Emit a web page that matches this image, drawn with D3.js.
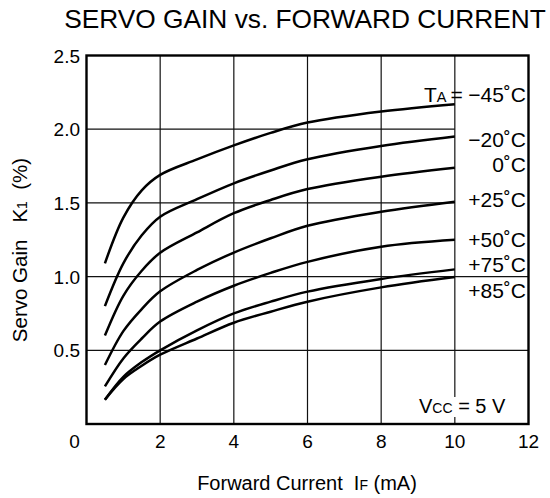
<!DOCTYPE html>
<html>
<head>
<meta charset="utf-8">
<script src="https://cdn.jsdelivr.net/npm/d3@7"></script>
<style>
  body { margin: 0; background: #fff; }
  svg { display: block; font-family: "Liberation Sans", Arial, sans-serif; }
</style>
</head>
<body>
<svg></svg>
<script>
// forward current (mA) where each curve was read
const currents = [0.5, 1, 1.5, 2, 3, 4, 5, 6, 8, 10];

// servo gain K1 (%) per ambient temperature
const gainM45 = [1.09, 1.40, 1.585, 1.69, 1.795, 1.89, 1.975, 2.045, 2.12, 2.17];
const gainM20 = [0.80, 1.09, 1.28, 1.406, 1.525, 1.633, 1.72, 1.796, 1.886, 1.95];
const gain0 = [0.60, 0.87, 1.04, 1.162, 1.30, 1.43, 1.52, 1.594, 1.678, 1.739];
const gainP25 = [0.40, 0.63, 0.78, 0.90, 1.045, 1.163, 1.26, 1.345, 1.44, 1.508];
const gainP50 = [0.255, 0.445, 0.58, 0.695, 0.83, 0.938, 1.025, 1.10, 1.203, 1.25];
const gainP75 = [0.165, 0.32, 0.42, 0.50, 0.635, 0.75, 0.83, 0.898, 0.984, 1.049];
const gainP85 = [0.165, 0.305, 0.395, 0.47, 0.58, 0.687, 0.762, 0.83, 0.927, 0.997];

const series = [gainM45, gainM20, gain0, gainP25, gainP50, gainP75, gainP85];
const tempLabels = ["\u221245\u02DAC", "\u221220\u02DAC", "0\u02DAC", "+25\u02DAC", "+50\u02DAC", "+75\u02DAC", "+85\u02DAC"];

const xTicks = [0, 2, 4, 6, 8, 10, 12];
const yTicks = [0.5, 1.0, 1.5, 2.0, 2.5];
const xGrid = [2, 4, 6, 8, 10];
const yGrid = [0.5, 1.0, 1.5, 2.0];
const yGridShort = [1.5, 2.0]; // these stop at 10 mA

document.addEventListener("DOMContentLoaded", function() {
  const width = 550;
  const height = 498;
  const margin = { top: 55.5, left: 86.5, bottom: 74, right: 21.5 };
  const innerWidth = width - margin.left - margin.right;
  const innerHeight = height - margin.top - margin.bottom;
  const fontSize = 19;
  const labelSize = 21;

  let svg = d3.select("svg")
              .attr("width", width)
              .attr("height", height);

  //set up scales
  let xScale = d3.scaleLinear().domain([0, 12]).range([margin.left, width - margin.right]);
  let yScale = d3.scaleLinear().domain([0, 2.5]).range([height - margin.bottom, margin.top]);

  //title
  svg.append("text")
     .attr("x", 305)
     .attr("y", 28)
     .attr("text-anchor", "middle")
     .style("font-size", "26.3px")
     .text("SERVO GAIN vs. FORWARD CURRENT");

  //grid
  svg.append("g")
     .selectAll("line")
     .data(xGrid)
     .enter()
     .append("line")
       .attr("x1", d => xScale(d))
       .attr("x2", d => xScale(d))
       .attr("y1", yScale(0))
       .attr("y2", yScale(2.5))
       .attr("stroke", "#111")
       .attr("stroke-width", 1.2);

  svg.append("g")
     .selectAll("line")
     .data(yGrid)
     .enter()
     .append("line")
       .attr("x1", xScale(0))
       .attr("x2", d => yGridShort.includes(d) ? xScale(10) : xScale(12))
       .attr("y1", d => yScale(d))
       .attr("y2", d => yScale(d))
       .attr("stroke", "#111")
       .attr("stroke-width", 1.2);

  //frame
  svg.append("rect")
     .attr("x", xScale(0))
     .attr("y", yScale(2.5))
     .attr("width", innerWidth)
     .attr("height", innerHeight)
     .attr("fill", "none")
     .attr("stroke", "#000")
     .attr("stroke-width", 2.4);

  //curves
  let line = d3.line()
               .x((d, i) => xScale(currents[i]))
               .y(d => yScale(d))
               .curve(d3.curveCatmullRom.alpha(0.5));

  svg.append("g")
     .selectAll("path")
     .data(series)
     .enter()
     .append("path")
       .attr("d", line)
       .attr("fill", "none")
       .attr("stroke", "#000")
       .attr("stroke-width", 2.5);

  //temperature labels
  const labelY = [101.7, 147.3, 171.7, 207.3, 246.7, 271.7, 297.7];
  svg.append("g")
     .selectAll("text")
     .data(tempLabels)
     .enter()
     .append("text")
       .attr("x", 526)
       .attr("y", (d, i) => labelY[i])
       .attr("text-anchor", "end")
       .style("font-size", labelSize + "px")
       .text(d => d);

  let ta = svg.append("text")
              .attr("x", 424)
              .attr("y", 101.7)
              .style("font-size", labelSize + "px");
  ta.append("tspan").text("T");
  ta.append("tspan").style("font-size", "14.5px").text("A");
  ta.append("tspan").attr("dx", 4).text("=");

  //Vcc note with white box under it
  let vccBox = svg.append("rect").attr("fill", "#fff");
  let vcc = svg.append("text")
               .attr("x", 419)
               .attr("y", 413)
               .style("font-size", "20px");
  vcc.append("tspan").text("V");
  vcc.append("tspan").style("font-size", "14px").text("CC");
  vcc.append("tspan").text(" = 5 V");
  let bb = vcc.node().getBBox();
  vccBox.attr("x", bb.x - 1).attr("y", bb.y + 2).attr("width", bb.width + 2).attr("height", bb.height - 2);

  //tick labels
  svg.append("g")
     .selectAll("text")
     .data(xTicks)
     .enter()
     .append("text")
       .attr("x", d => d === 0 ? xScale(d) - 12 : xScale(d))
       .attr("y", 448)
       .attr("text-anchor", "middle")
       .style("font-size", fontSize + "px")
       .text(d => d);

  svg.append("g")
     .selectAll("text")
     .data(yTicks)
     .enter()
     .append("text")
       .attr("x", 80)
       .attr("y", d => yScale(d) + 7)
       .attr("text-anchor", "end")
       .style("font-size", fontSize + "px")
       .text(d => d.toFixed(1));

  //axis titles
  let xt = svg.append("text")
              .attr("x", 307)
              .attr("y", 490)
              .attr("text-anchor", "middle")
              .style("font-size", "20px");
  xt.append("tspan").text("Forward Current\u00A0\u00A0I");
  xt.append("tspan").style("font-size", "14px").text("F");
  xt.append("tspan").text(" (mA)");

  let yt = svg.append("text")
              .attr("transform", "translate(27,250) rotate(-90)")
              .attr("text-anchor", "middle")
              .style("font-size", "20.5px");
  yt.append("tspan").text("Servo Gain\u00A0\u00A0\u00A0K");
  yt.append("tspan").style("font-size", "14px").text("1");
  yt.append("tspan").text("\u00A0\u00A0(%)");
});
</script>
</body>
</html>
